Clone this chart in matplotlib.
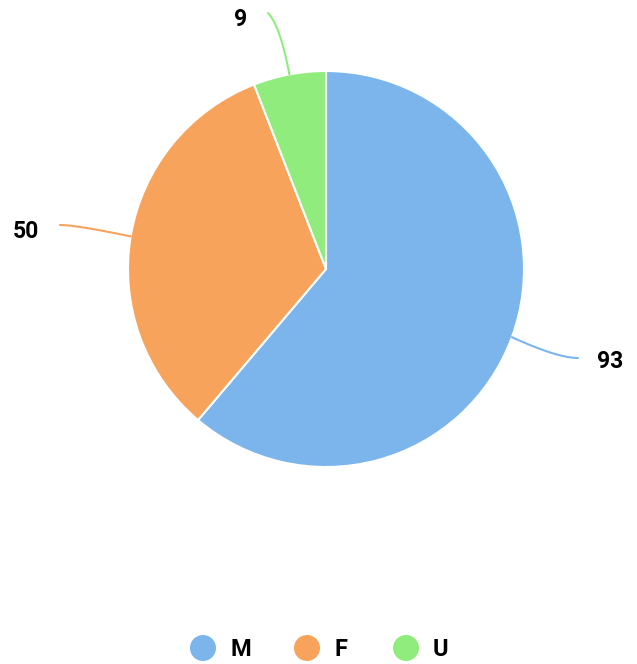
import numpy as np
import matplotlib
matplotlib.use("Agg")
import matplotlib.pyplot as plt
from matplotlib.patches import Circle

categories = ["M", "F", "U"]
values = [93, 50, 9]
colors = ["#7cb5ec", "#f7a35c", "#90ed7d"]

W, H = 637, 664
plt.rcParams['font.family'] = ['Roboto', 'DejaVu Sans']

fig = plt.figure(figsize=(W / 100, H / 100), dpi=100)
ax = fig.add_axes([0, 0, 1, 1])

cx, cy, R = 326, H - 269, 198
wedges, _ = ax.pie(values, colors=colors, startangle=90, counterclock=False,
                   center=(cx, cy), radius=R, frame=True,
                   wedgeprops=dict(edgecolor='white', linewidth=1.5))
ax.set_xlim(0, W)
ax.set_ylim(0, H)
ax.set_aspect('auto')
ax.axis('off')

# label end points (layout) for each slice
label_ends = [(578, H - 358), (60, H - 225), (268, H - 13)]
label_pos = [(597, H - 362, 'left'), (39, H - 231, 'right'), (247, H - 19, 'right')]

for w, v, c, end, lp in zip(wedges, values, colors, label_ends, label_pos):
    ang = np.deg2rad((w.theta1 + w.theta2) / 2)
    p0 = np.array([cx + R * np.cos(ang), cy + R * np.sin(ang)])
    p2 = np.array(end, dtype=float)
    d = np.array([np.cos(ang), np.sin(ang)])
    if abs(d[1]) > 0.9:
        t = (p2[1] - cy) / d[1]
        p1 = np.array([cx, cy]) + d * t * 0.95
    else:
        t = (p2[1] - cy) / d[1]
        p1 = np.array([cx, cy]) + d * t
        p1[0] = p0[0] + (p1[0] - p0[0]) * 0.8
    ts = np.linspace(0, 1, 50)[:, None]
    pts = (1 - ts) ** 2 * p0 + 2 * (1 - ts) * ts * p1 + ts ** 2 * p2
    ax.plot(pts[:, 0], pts[:, 1], color=c, lw=1.5, solid_capstyle='round')
    ax.text(lp[0], lp[1], str(v), ha=lp[2], va='center', fontsize=16.5,
            fontweight='bold', color='black')

# legend
leg_x = [203, 307, 406]
leg_y = H - 648
for x, lab, c in zip(leg_x, categories, colors):
    ax.add_patch(Circle((x, leg_y), 13, color=c, lw=0))
    ax.text(x + 27, leg_y - 1, lab, ha='left', va='center', fontsize=17,
            fontweight='bold', color='black')

fig.savefig("out.png", dpi=100)
